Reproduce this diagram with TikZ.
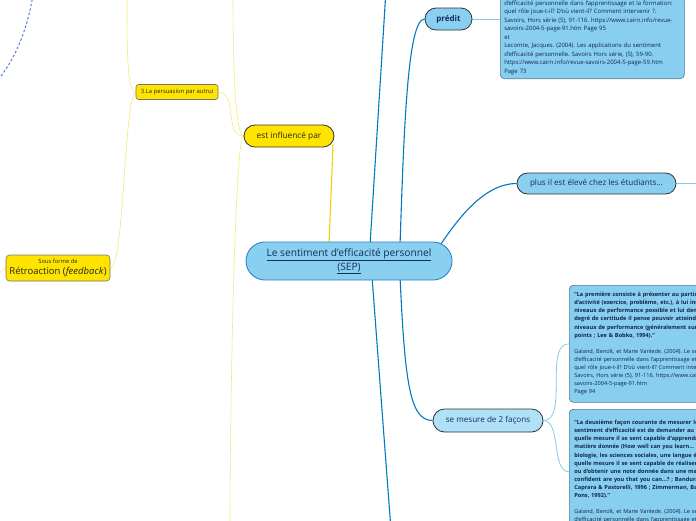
\documentclass[tikz,border=0pt]{standalone}
\usepackage{fontspec}
\setmainfont{Open Sans}
\usetikzlibrary{backgrounds}

\definecolor{sepfill}{RGB}{137,207,240}
\definecolor{sepborder}{RGB}{45,130,200}
\definecolor{blueline}{RGB}{0,122,190}
\definecolor{lightline}{RGB}{140,200,235}
\definecolor{yel}{RGB}{255,228,0}
\definecolor{yelline}{RGB}{248,232,120}
\definecolor{yelstrong}{RGB}{242,208,0}
\definecolor{navy}{RGB}{22,45,88}
\definecolor{boxfill}{RGB}{135,206,240}
\definecolor{boxborder}{RGB}{85,120,145}
\definecolor{palefill}{RGB}{175,225,248}
\definecolor{dotblue}{RGB}{90,120,230}
\definecolor{darktext}{RGB}{35,40,30}

\tikzset{
  centerpill/.style={draw=sepborder, fill=sepfill, line width=0.9pt, rounded corners=19pt,
    minimum width=206pt, minimum height=38pt, inner sep=0pt, align=center,
    font=\fontsize{10.2}{14}\selectfont, text=navy},
  bluepill/.style={draw=black!80, fill=sepfill, line width=0.8pt, inner sep=0pt,
    align=center, text=navy},
  palepill/.style={bluepill, fill=palefill},
  yelpill/.style={draw=black!80, fill=yel, line width=0.8pt, inner sep=0pt,
    align=center, text=darktext},
  yelbox/.style={draw=black!55, fill=yel, line width=0.6pt, inner sep=0pt,
    align=center, text=darktext},
  quotebox/.style={draw=boxborder, fill=boxfill, line width=0.6pt, rounded corners=4pt,
    align=left, inner xsep=5pt, inner ysep=6pt, text=navy!80!black,
    font=\fontsize{5.6}{8.1}\selectfont\frenchspacing},
  bluecon/.style={draw=blueline, line width=1.1pt},
  lightcon/.style={draw=lightline, line width=0.8pt},
  yelcon/.style={draw=yelline, line width=0.6pt},
  yelstrongcon/.style={draw=yelstrong, line width=1.1pt},
  dotcon/.style={draw=dotblue, line width=1pt, dash pattern=on 2.5pt off 2pt}
}

\begin{document}
\frenchspacing
\begin{tikzpicture}[x=1pt,y=-1pt]
\useasboundingbox (0,0) rectangle (696,520);
\clip (0,0) rectangle (696,520);

% nodes
\node[centerpill] (sep) at (349,261)
  {\underline{Le sentiment d'efficacité personnel}\\\underline{(SEP)}};
\node[yelpill, rounded corners=11pt, minimum width=90pt, minimum height=22pt,
  font=\fontsize{8.3}{9}\selectfont] (infl) at (289,136) {est influencé par};
\node[yelbox, rounded corners=2.5pt, minimum width=82pt, minimum height=15pt,
  font=\fontsize{5.9}{7}\selectfont] (pers) at (177,92) {3.La persuasion par autrui};
\node[yelbox, rounded corners=3.5pt, minimum width=104pt, minimum height=26pt]
  (retro) at (58,268)
  {{\fontsize{5.8}{7}\selectfont Sous forme de}\\[-1.5pt]
   {\fontsize{9.5}{10}\selectfont Rétroaction (\textit{feedback})}};
\node[bluepill, rounded corners=11pt, minimum width=47pt, minimum height=22pt,
  font=\fontsize{8}{9}\selectfont\bfseries] (predit) at (448.5,19) {prédit};
\node[bluepill, rounded corners=10.5pt, minimum width=159pt, minimum height=21pt,
  font=\fontsize{8.1}{9}\selectfont] (plus) at (596.5,183.5)
  {plus il est élevé chez les étudiants...};
\node[palepill, rounded corners=11.5pt, minimum width=110pt, minimum height=23pt,
  font=\fontsize{8.1}{9}\selectfont] (mesure) at (488,420.5) {se mesure de 2 façons};

\node[quotebox, anchor=south west, text width=176pt, inner xsep=4pt, inner ysep=4pt,
  font=\fontsize{5.95}{8.5}\selectfont\frenchspacing] (q1) at (500,79)
  {d'efficacité personnelle dans l'apprentissage et la formation:\\
   quel rôle joue-t-il? D'où vient-il? Comment intervenir ?.\\
   Savoirs, Hors série (5), 91-116. https://www.cairn.info/revue-\\
   savoirs-2004-5-page-91.htm Page 95\\
   et\\
   Lecomte, Jacques. (2004). Les applications du sentiment\\
   d'efficacité personnelle. Savoirs Hors série, (5), 59-90.\\
   https://www.cairn.info/revue-savoirs-2004-5-page-59.htm\\
   Page 73};

\node[quotebox, anchor=north west, text width=280pt, minimum height=117pt] (q2) at (569,285)
  {\textbf{"La première consiste à présenter au participant une tâche ou un type}\\
   \textbf{d'activité (exercice, problème, etc.), à lui indiquer différents}\\
   \textbf{niveaux de performance possible et lui demander avec quel}\\
   \textbf{degré de certitude il pense pouvoir atteindre chacun de ces}\\
   \textbf{niveaux de performance (généralement sur une échelle de 100}\\
   \textbf{points ; Lee \& Bobko, 1994)."}\\[8.1pt]
   Galand, Benoît, et Marie Vanlede. (2004). Le sentiment\\
   d'efficacité personnelle dans l'apprentissage et la formation:\\
   quel rôle joue-t-il? D'où vient-il? Comment intervenir ?.\\
   Savoirs, Hors série (5), 91-116. https://www.cairn.info/revue-\\
   savoirs-2004-5-page-91.htm\\
   Page 94};

\node[quotebox, anchor=north west, text width=280pt, minimum height=125pt] (q3) at (569,409)
  {\textbf{"La deuxième façon courante de mesurer le}\\
   \textbf{sentiment d'efficacité est de demander au participant dans}\\
   \textbf{quelle mesure il se sent capable d'apprendre une}\\
   \textbf{matière donnée (How well can you learn... ? : la}\\
   \textbf{biologie, les sciences sociales, une langue étrangère...) ou dans}\\
   \textbf{quelle mesure il se sent capable de réaliser une tâche}\\
   \textbf{ou d'obtenir une note donnée dans une matière (How}\\
   \textbf{confident are you that you can...? ; Bandura, Barbaranelli,}\\
   \textbf{Caprara \& Pastorelli, 1996 ; Zimmerman, Bandura \& Martinez-}\\
   \textbf{Pons, 1992)."}\\[8.1pt]
   Galand, Benoît, et Marie Vanlede. (2004). Le sentiment\\
   d'efficacité personnelle dans l'apprentissage et la formation:};

% free ends
\coordinate (topend) at (386,-10);
\coordinate (botend) at (391,530);
\coordinate (plusend) at (705,183.5);
\coordinate (infltop) at (233,-5);
\coordinate (inflbot) at (230,525);
\coordinate (perstop) at (127,-5);
\coordinate (retroend) at (-6,277);
\coordinate (dotA) at (33,-5);
\coordinate (dotB) at (-2,80);

\begin{scope}[on background layer]
  % blue main connectors
  \draw[bluecon] ([xshift=21pt,yshift=-4pt]sep.north) -- (topend);
  \draw[bluecon] ([xshift=51pt,yshift=-4pt]sep.north) .. controls +(4,-118) and +(-17,0) .. (predit.west);
  \draw[bluecon] ([xshift=91pt,yshift=-4pt]sep.north) .. controls +(25,-38) and +(-27,0) .. (plus.west);
  \draw[bluecon] ([xshift=23pt,yshift=4pt]sep.south) -- (botend);
  \draw[bluecon] ([xshift=51pt,yshift=4pt]sep.south) .. controls +(5,106) and +(-23,0) .. (mesure.west);
  % light blue
  \draw[lightcon] (predit.east) -- (predit.east -| q1.west);
  \draw[lightcon] (plus.east) -- (plusend);
  \draw[lightcon] (mesure.east) to[out=0,in=180,looseness=0.8] (q2.west);
  \draw[lightcon] (mesure.east) to[out=0,in=180,looseness=0.8] (q3.west);
  % yellow
  \draw[yelstrongcon] ([xshift=44pt,yshift=3pt]infl.south) -- ([xshift=-20pt,yshift=-4pt]sep.north);
  \draw[yelcon] (infl.west) .. controls +(-9,0) and +(0,60) .. (infltop);
  \draw[yelcon] (infl.west) .. controls +(-9,0) and +(0,-110) .. (inflbot);
  \draw[yelcon] (infl.west) to[out=180,in=0] (pers.east);
  \draw[yelcon] (pers.west) .. controls +(-9,0) and +(0,50) .. (perstop);
  \draw[yelcon] (pers.west) .. controls +(-12,8) and +(14,0) .. (retro.east);
  \draw[yelcon] (retro.west) -- (retroend);
  % dotted relation
  \draw[dotcon] (dotA) .. controls (28,25) and (18,55) .. (dotB);
\end{scope}
\end{tikzpicture}
\end{document}
